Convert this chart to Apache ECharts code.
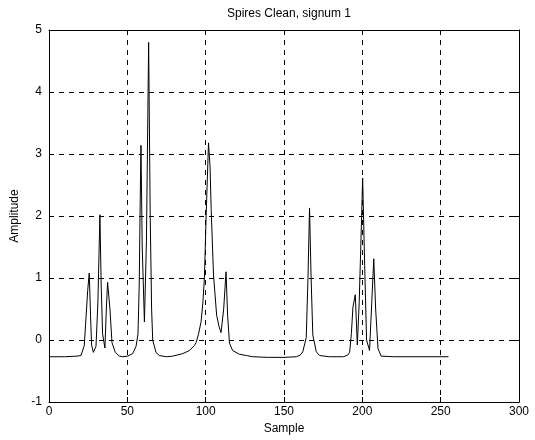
<!DOCTYPE html>
<html>
<head>
<meta charset="utf-8">
<script src="https://cdn.jsdelivr.net/npm/echarts@6/dist/echarts.min.js"></script>
<style>html,body{margin:0;padding:0;background:#fff}#c{width:535px;height:440px}</style>
</head>
<body>
<div id="c"></div>
<script>
const titleText = 'Spires Clean, signum 1';
const xName = 'Sample';
const yName = 'Amplitude';
const xTicks = [0, 50, 100, 150, 200, 250, 300];
const yTicks = [-1, 0, 1, 2, 3, 4, 5];
const sampleX = [0,10,18,20.4,22.5,23.6,24.7,25.7,26.5,27.2,28.3,30,31.2,32.5,33.3,34.2,35.7,36.6,37.4,38.9,40.2,42.3,44.9,47,50.2,53.4,55.6,56.8,57.6,58.1,58.7,59.5,60.9,62.2,63.6,64.6,65.5,66.2,68.3,70.4,75,79,85.4,89.6,92.8,93.9,95.5,97.1,98.2,99.2,100.3,101.8,102.8,103.5,105,107,108.5,109.8,111.5,113,114,115.2,117.2,121.6,126,130,140,150,158,160.5,162,164.2,165.3,166.3,167.3,168.4,170.6,172.7,179,188,190.8,191.9,193,194,195.5,196.8,198,199,200.2,201.5,202.7,204.6,206,207.3,208.5,210,212,220,255];
const amplitude = [-0.27,-0.27,-0.26,-0.25,-0.09,0.35,0.8,1.08,0.4,-0.08,-0.2,-0.1,0.6,2.02,0.9,0.1,-0.13,0.5,0.93,0.5,-0.04,-0.2,-0.26,-0.27,-0.26,-0.22,-0.1,0.1,0.9,2.0,3.14,1.5,0.29,1.6,4.8,2.0,0.5,0.0,-0.2,-0.25,-0.27,-0.26,-0.22,-0.17,-0.09,-0.04,0.1,0.3,0.6,1.0,2.0,3.18,2.8,2.12,1.05,0.4,0.22,0.12,0.5,1.1,0.4,-0.05,-0.17,-0.23,-0.25,-0.27,-0.28,-0.28,-0.27,-0.24,-0.19,0.04,1.0,2.13,1.0,0.08,-0.19,-0.25,-0.27,-0.27,-0.24,-0.2,0.1,0.53,0.73,-0.08,0.6,1.5,2.61,1.2,0.0,-0.17,0.6,1.31,0.5,-0.14,-0.26,-0.27,-0.27];

const data = sampleX.map((x, i) => [x, amplitude[i]]);
const font = 'Arial, "Liberation Sans", sans-serif';
const xMin = xTicks[0], xMax = xTicks[xTicks.length - 1];
const yMin = yTicks[0], yMax = yTicks[yTicks.length - 1];

const chart = echarts.init(document.getElementById('c'), null, {renderer: 'canvas'});
const baseAxis = {
  axisLine: {show: true, onZero: false, lineStyle: {color: '#000', width: 1}},
  axisTick: {show: true, inside: true, length: 5, lineStyle: {color: '#000'}},
  minorTick: {show: false}
};
chart.setOption({
  animation: false,
  backgroundColor: '#fff',
  title: {
    text: titleText, left: 284, top: 3, textAlign: 'center',
    textStyle: {fontFamily: font, fontSize: 12, fontWeight: 'normal', color: '#000'}
  },
  grid: {left: 49, right: 16, top: 30, bottom: 38, show: false},
  xAxis: [
    Object.assign({}, baseAxis, {
      type: 'value', min: xMin, max: xMax, interval: 50,
      name: xName, nameLocation: 'middle', nameGap: 20,
      nameTextStyle: {fontFamily: font, fontSize: 12, color: '#000'},
      axisLabel: {fontFamily: font, fontSize: 12, color: '#000', margin: 4},
      splitLine: {show: true, lineStyle: {color: '#000', type: [5, 5], width: 1}}
    }),
    Object.assign({}, baseAxis, {
      type: 'value', position: 'top', min: xMin, max: xMax, interval: 50,
      axisLabel: {show: false}, splitLine: {show: false}
    })
  ],
  yAxis: [
    Object.assign({}, baseAxis, {
      type: 'value', min: yMin, max: yMax, interval: 1,
      name: yName, nameLocation: 'middle', nameGap: 28,
      nameTextStyle: {fontFamily: font, fontSize: 12, color: '#000'},
      axisLabel: {fontFamily: font, fontSize: 12, color: '#000', margin: 7},
      splitLine: {show: true, lineStyle: {color: '#000', type: [5, 5], width: 1}}
    }),
    Object.assign({}, baseAxis, {
      type: 'value', position: 'right', min: yMin, max: yMax, interval: 1,
      axisLabel: {show: false}, splitLine: {show: false}
    })
  ],
  series: [{
    type: 'line', data: data, xAxisIndex: 0, yAxisIndex: 0,
    showSymbol: false, symbol: 'none', smooth: false,
    lineStyle: {color: '#000', width: 1}
  }]
});
</script>
</body>
</html>
